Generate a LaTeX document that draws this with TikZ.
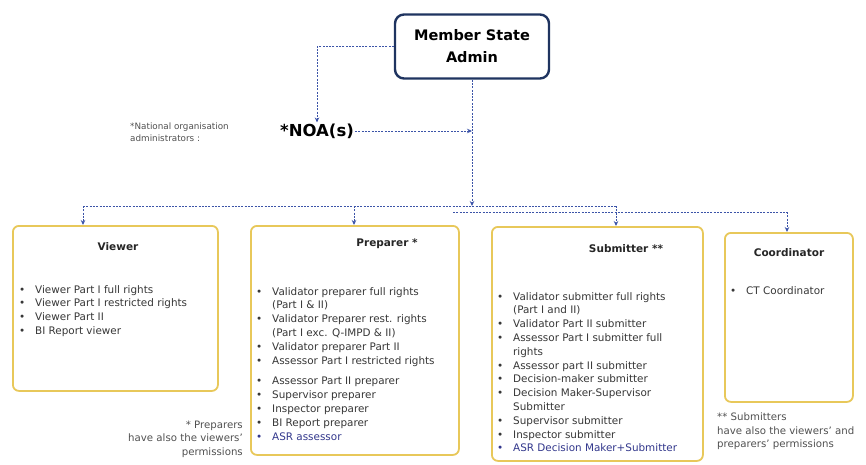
\documentclass[tikz,border=0pt]{standalone}
\usepackage{fontspec}
\setmainfont{DejaVu Sans}
\usetikzlibrary{arrows.meta}
\definecolor{navy}{RGB}{31,52,96}
\definecolor{linkblue}{RGB}{60,84,168}
\definecolor{gold}{RGB}{232,200,90}
\definecolor{bodytext}{RGB}{55,55,55}
\definecolor{notetext}{RGB}{80,80,80}
\definecolor{asrblue}{RGB}{50,55,140}
\newcommand{\itm}[1]{\makebox[16pt][l]{\textbullet}#1}
\newcommand{\cnt}[1]{\hspace*{16pt}#1}
\begin{document}
\begin{tikzpicture}[x=1pt,y=-1pt,
  conn/.style={draw=linkblue, line width=0.9pt, dash pattern=on 2pt off 1.3pt},
  arr/.style={conn, -{Stealth[length=5pt,width=4.5pt]}},
  adminbox/.style={draw=navy, line width=2.4pt, rounded corners=9pt, fill=white,
    minimum width=154pt, minimum height=64pt, align=center,
    font=\fontsize{14.5}{22}\selectfont\bfseries, text=black},
  rolebox/.style={draw=gold, line width=1.8pt, rounded corners=6pt, fill=white,
    anchor=north west, inner sep=0pt},
  roletitle/.style={font=\fontsize{10.5}{13}\selectfont\bfseries, text=black!85, inner sep=0pt},
  rolelist/.style={anchor=north west, align=left, inner sep=0pt, text=bodytext,
    font=\fontsize{10.4}{13.8}\selectfont},
  note/.style={inner sep=0pt, text=notetext, font=\fontsize{10.2}{13.2}\selectfont}
]
\useasboundingbox (0,0) rectangle (866,465);

% top level
\node[adminbox] (admin) at (472,46.5) {Member State\\Admin};
\node[inner sep=1pt, font=\fontsize{16.5}{18}\selectfont\bfseries] (noa) at (317,131) {*NOA(s)};
\node[note, font=\fontsize{8.8}{12}\selectfont, align=left, anchor=west] (noanote) at (130,132)
  {*National organisation\\administrators :};

% role boxes
\node[rolebox, minimum width=205pt, minimum height=165pt] (viewer) at (12,225) {};
\node[rolebox, minimum width=208pt, minimum height=229pt] (preparer) at (250,225) {};
\node[rolebox, minimum width=211pt, minimum height=234pt] (submitter) at (491,226) {};
\node[rolebox, minimum width=128pt, minimum height=169pt] (coord) at (724,232) {};

% titles
\node[roletitle] (tviewer) at (118,247) {Viewer};
\node[roletitle] (tpreparer) at (387,244) {Preparer *};
\node[roletitle] (tsubmitter) at (626,249) {Submitter **};
\node[roletitle] (tcoord) at (789,253) {Coordinator};

% permission lists
\node[rolelist] (lviewer) at (19,285) {%
  \itm{Viewer Part I full rights}\\
  \itm{Viewer Part I restricted rights}\\
  \itm{Viewer Part II}\\
  \itm{BI Report viewer}};
\node[rolelist] (lpreparer) at (256,287) {%
  \itm{Validator preparer full rights}\\
  \cnt{(Part I \& II)}\\
  \itm{Validator Preparer rest. rights}\\
  \cnt{(Part I exc. Q-IMPD \& II)}\\
  \itm{Validator preparer Part II}\\
  \itm{Assessor Part I restricted rights}\\[7pt]
  \itm{Assessor Part II preparer}\\
  \itm{Supervisor preparer}\\
  \itm{Inspector preparer}\\
  \itm{BI Report preparer}\\
  \textcolor{asrblue}{\itm{ASR assessor}}};
\node[rolelist] (lsubmitter) at (497,292) {%
  \itm{Validator submitter full rights}\\
  \cnt{(Part I and II)}\\
  \itm{Validator Part II submitter}\\
  \itm{Assessor Part I submitter full}\\
  \cnt{rights}\\
  \itm{Assessor part II submitter}\\
  \itm{Decision-maker submitter}\\
  \itm{Decision Maker-Supervisor}\\
  \cnt{Submitter}\\
  \itm{Supervisor submitter}\\
  \itm{Inspector submitter}\\
  \textcolor{asrblue}{\itm{ASR Decision Maker+Submitter}}};
\node[rolelist] (lcoord) at (730,286) {\itm{CT Coordinator}};

% footnotes
\node[note, align=right, anchor=north east] (fnprep) at (243,421)
  {* Preparers\\have also the viewers'\\permissions};
\node[note, align=left, anchor=north west] (fnsub) at (717,413)
  {** Submitters\\have also the viewers' and\\preparers' permissions};

% connectors
\coordinate (hub) at (admin.south |- 0,206);
\coordinate (busA) at (83,206);
\coordinate (busP) at (354,206);
\coordinate (busB) at (616,206);
\coordinate (busC) at (453,212);
\coordinate (busD) at (787,212);
\draw[arr] (admin.west) -| (noa.north);
\draw[arr] (noa.east) -- (noa.east -| admin.south);
\draw[arr] (admin.south) -- (hub);
\draw[conn] (busA) -- (busB);
\draw[conn] (busC) -- (busD);
\draw[arr] (busA) -- (busA |- viewer.north);
\draw[arr] (busP) -- (busP |- preparer.north);
\draw[arr] (busB) -- (busB |- submitter.north);
\draw[arr] (busD) -- (busD |- coord.north);
\end{tikzpicture}
\end{document}
